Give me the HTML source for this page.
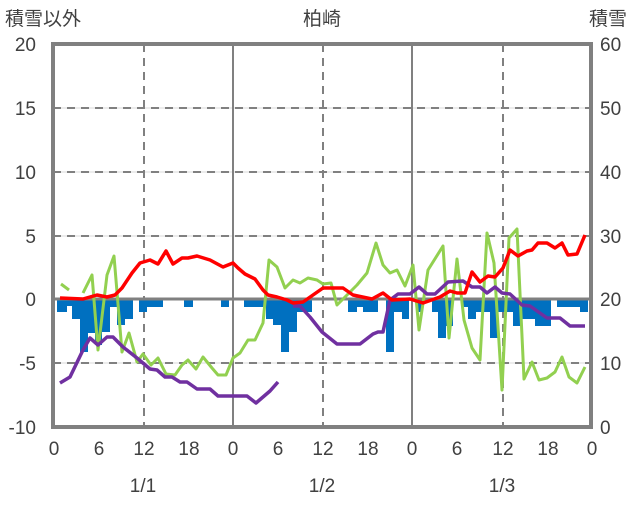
<!DOCTYPE html>
<html><head><meta charset="utf-8"><style>
body{margin:0;background:#fff;}
svg text{font-family:"Liberation Sans","Noto Sans CJK JP",sans-serif;fill:#404040;font-size:19px;}
</style></head><body>
<svg width="636" height="501" viewBox="0 0 636 501" xmlns="http://www.w3.org/2000/svg">
<g stroke="#d9d9d9" stroke-width="1">
<line x1="53" y1="108" x2="591" y2="108"/><line x1="53" y1="172" x2="591" y2="172"/><line x1="53" y1="236" x2="591" y2="236"/><line x1="53" y1="363" x2="591" y2="363"/>
</g>
<g stroke="#808080" stroke-width="2" stroke-dasharray="8,6">
<line x1="53" y1="108" x2="591" y2="108"/><line x1="53" y1="172" x2="591" y2="172"/><line x1="53" y1="236" x2="591" y2="236"/><line x1="53" y1="363" x2="591" y2="363"/>
<line x1="144" y1="44" x2="144" y2="427"/><line x1="323" y1="44" x2="323" y2="427"/><line x1="503" y1="44" x2="503" y2="427"/>
</g>
<g stroke="#808080" stroke-width="2"><line x1="233" y1="44" x2="233" y2="427"/><line x1="412" y1="44" x2="412" y2="427"/></g>
<g fill="#0070c0">
<rect x="57" y="300" width="10" height="12"/><rect x="67" y="300" width="5" height="6"/><rect x="72" y="300" width="8" height="19"/><rect x="80" y="300" width="8" height="52"/><rect x="88" y="300" width="7" height="33"/><rect x="95" y="300" width="7" height="45"/><rect x="102" y="300" width="8" height="32"/><rect x="110" y="300" width="7" height="7"/><rect x="117" y="300" width="8" height="25"/><rect x="125" y="300" width="8" height="19"/><rect x="139" y="300" width="8" height="12"/><rect x="147" y="300" width="16" height="7"/><rect x="184" y="300" width="9" height="7"/><rect x="221" y="300" width="8" height="7"/><rect x="244" y="300" width="22" height="7"/><rect x="266" y="300" width="7" height="19"/><rect x="273" y="300" width="8" height="25"/><rect x="281" y="300" width="8" height="52"/><rect x="289" y="300" width="8" height="32"/><rect x="297" y="300" width="15" height="12"/><rect x="348" y="300" width="9" height="12"/><rect x="357" y="300" width="6" height="7"/><rect x="363" y="300" width="15" height="12"/><rect x="386" y="300" width="8" height="52"/><rect x="394" y="300" width="8" height="12"/><rect x="402" y="300" width="7" height="19"/><rect x="417" y="300" width="6" height="12"/><rect x="432" y="300" width="6" height="12"/><rect x="438" y="300" width="8" height="38"/><rect x="446" y="300" width="7" height="26"/><rect x="461" y="300" width="7" height="7"/><rect x="468" y="300" width="8" height="19"/><rect x="476" y="300" width="14" height="12"/><rect x="490" y="300" width="8" height="38"/><rect x="498" y="300" width="15" height="12"/><rect x="513" y="300" width="8" height="26"/><rect x="521" y="300" width="14" height="19"/><rect x="535" y="300" width="16" height="26"/><rect x="557" y="300" width="23" height="7"/><rect x="580" y="300" width="8" height="12"/>
</g>
<line x1="53" y1="299" x2="591" y2="299" stroke="#808080" stroke-width="3"/>
<g fill="none" stroke-width="3" stroke-linejoin="round">
<polyline stroke="#92d050" points="61,284 69,290"/>
<polyline stroke="#92d050" points="83,293 92,275 98,350 107,275 114,256 122,352 129,333 137,362 143,354 151,365 158,358 166,374 175,375 182,365 188,360 196,369 203,357 212,368 218,375 226,375 233,358 240,353 248,340 255,340 263,323 269,260 277,267 285,288 293,280 300,283 308,278 317,280 323,284 331,283 337,305 347,295 357,285 367,273 376,243 383,265 390,273 397,270 405,286 413,265 419,330 428,270 443,246 449,338 457,259 464,320 472,348 480,360 487,233 494,263 502,390 509,238 517,229 524,379 532,362 539,380 547,378 555,372 562,357 569,377 577,383 585,367"/>
<polyline stroke="#7030a0" stroke-width="3.5" points="60,383 70,377 83,350 90,338 98,345 107,337 113,337 123,347 137,358 150,369 157,370 165,377 172,377 180,382 187,382 197,389 210,389 218,396 247,396 256,403 270,391 278,382"/>
<polyline stroke="#7030a0" stroke-width="3.5" points="293,306 300,306 310,317 322,332 337,344 360,344 373,334 378,332 383,332 390,300 398,294 410,294 419,287 427,294 435,294 448,282 463,281 472,287 480,287 487,293 495,287 502,293 510,294 522,305 530,306 547,318 560,318 570,326 585,326"/>
<polyline stroke="#ff0000" stroke-width="3.5" points="60,298 83,299 97,295 107,297 115,295 122,288 132,273 140,263 150,260 158,264 166,251 173,264 182,258 188,258 197,256 210,260 223,267 233,263 238,268 245,274 255,279 263,290 268,295 277,297 287,300 293,303 303,302 313,295 323,288 343,288 353,295 372,299 383,293 392,300 410,299 423,303 440,297 450,291 457,293 465,293 472,272 480,282 488,276 495,277 503,268 510,250 518,256 527,251 532,250 538,243 547,243 555,248 562,243 568,255 577,254 585,235"/>
</g>
<rect x="53" y="44" width="538" height="383" fill="none" stroke="#808080" stroke-width="4"/>
<g text-anchor="end">
<text x="36" y="51">20</text><text x="36" y="115">15</text><text x="36" y="179">10</text><text x="36" y="243">5</text><text x="36" y="306">0</text><text x="36" y="370">-5</text><text x="36" y="434">-10</text>
</g>
<g text-anchor="start">
<text x="600" y="51">60</text><text x="600" y="115">50</text><text x="600" y="179">40</text><text x="600" y="243">30</text><text x="600" y="306">20</text><text x="600" y="370">10</text><text x="600" y="434">0</text>
</g>
<g text-anchor="middle">
<text x="54" y="455">0</text><text x="99" y="455">6</text><text x="144" y="455">12</text><text x="189" y="455">18</text><text x="233" y="455">0</text><text x="278" y="455">6</text><text x="323" y="455">12</text><text x="368" y="455">18</text><text x="412" y="455">0</text><text x="457" y="455">6</text><text x="503" y="455">12</text><text x="548" y="455">18</text><text x="592" y="455">0</text>
<text x="143" y="492">1/1</text><text x="322" y="492">1/2</text><text x="502" y="492">1/3</text>
<text x="322" y="25">柏崎</text>
</g>
<text x="5" y="25">積雪以外</text>
<text x="589" y="25">積雪</text>
</svg>
</body></html>
